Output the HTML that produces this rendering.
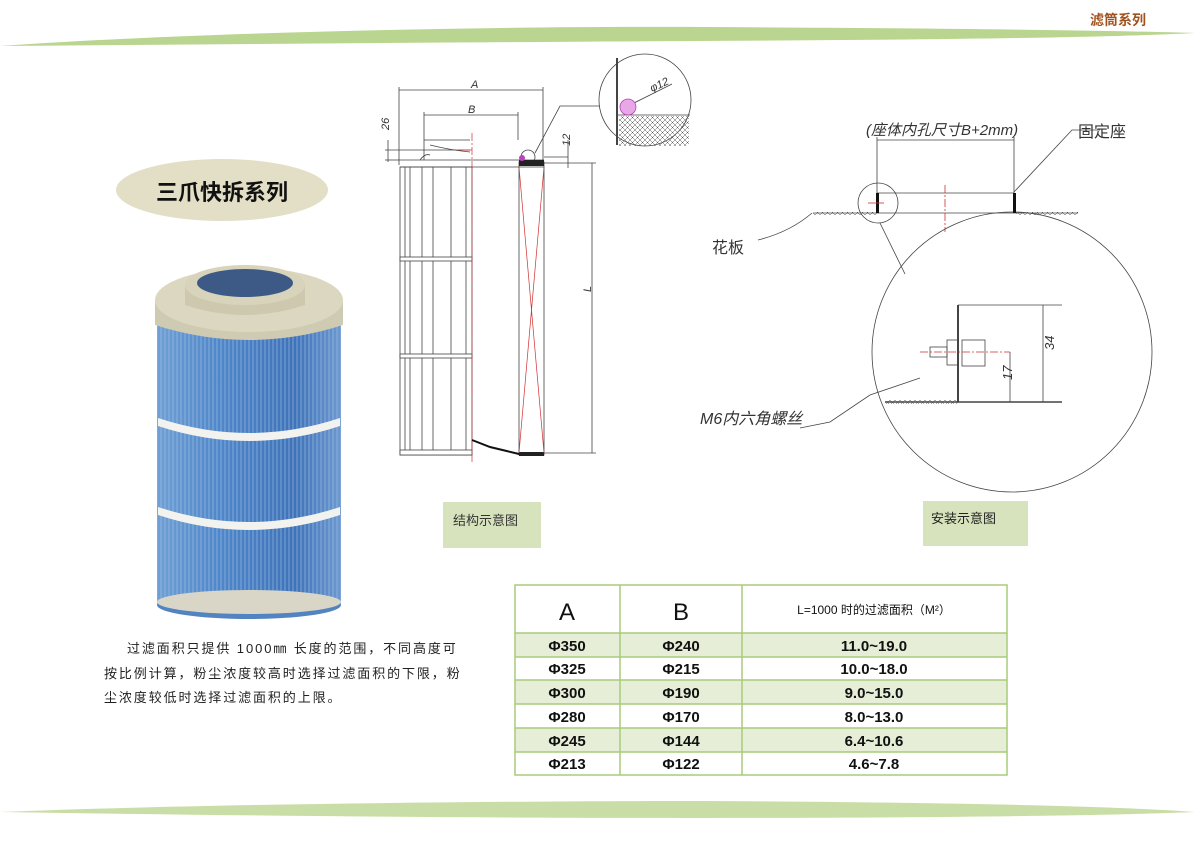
<!DOCTYPE html>
<html><head><meta charset="utf-8"><style>
html,body{margin:0;padding:0;background:#fff;}
svg{display:block;font-family:"Liberation Sans","Noto Sans CJK SC",sans-serif;}
</style></head><body>
<svg width="1199" height="847" viewBox="0 0 1199 847" xmlns="http://www.w3.org/2000/svg">
<defs>
<linearGradient id="blue" x1="0" x2="1" y1="0" y2="0">
<stop offset="0" stop-color="#6f9fd4"/><stop offset="0.35" stop-color="#4f86c8"/><stop offset="0.75" stop-color="#3f73b8"/><stop offset="1" stop-color="#6c98cf"/>
</linearGradient>
<pattern id="pleat" width="4" height="10" patternUnits="userSpaceOnUse"><rect width="4" height="10" fill="none"/><line x1="1" y1="0" x2="1" y2="10" stroke="#a9c6ea" stroke-width="0.8" opacity="0.7"/></pattern>
<pattern id="hatch" width="5" height="5" patternUnits="userSpaceOnUse"><path d="M0 0L5 5M5 0L0 5" stroke="#555" stroke-width="0.5"/></pattern>
</defs>
<!-- top swoosh -->
<path d="M0 46 C200 32 500 26 700 27 C900 28 1100 30 1195 33 C1100 38 900 40 700 41 C500 42 250 44 0 46Z" fill="#b9d58f"/>
<text x="1090" y="25" font-size="14" font-weight="bold" fill="#a0521e">滤筒系列</text>
<!-- bottom swoosh -->
<path d="M0 812 C200 804 500 801 700 801 C900 802 1100 805 1195 812 C1100 816 900 818 700 818 C500 818 250 816 0 812Z" fill="#c9dea6"/>

<!-- title oval -->
<ellipse cx="222" cy="190" rx="106" ry="31" fill="#e3dfc6"/>
<text x="222" y="200" font-size="22" font-weight="bold" text-anchor="middle" fill="#111">三爪快拆系列</text>

<!-- filter photo -->
<rect x="157" y="300" width="184" height="305" fill="url(#blue)"/>
<rect x="157" y="300" width="184" height="305" fill="url(#pleat)"/>
<ellipse cx="249" cy="605" rx="92" ry="14" fill="#5384c2"/>
<ellipse cx="249" cy="602" rx="92" ry="12" fill="#d9d6c8"/>
<path d="M158 418 Q249 448 340 418 L340 426 Q249 456 158 426Z" fill="#f2f2ef"/>
<path d="M158 507 Q249 537 340 507 L340 515 Q249 545 158 515Z" fill="#f2f2ef"/>
<path d="M155 300 L155 325 Q249 355 343 325 L343 300Z" fill="#cfcab2"/>
<ellipse cx="249" cy="300" rx="94" ry="32" fill="#dcd7c1"/>
<path d="M185 285 L185 305 Q245 325 305 305 L305 285Z" fill="#cdc8ae"/>
<ellipse cx="245" cy="285" rx="60" ry="20" fill="#d8d3bb"/>
<ellipse cx="245" cy="283" rx="48" ry="14" fill="#3d5a86"/>

<!-- paragraph -->
<g font-size="13" fill="#222" letter-spacing="1.9">
<text x="127" y="653">过滤面积只提供 1000㎜ 长度的范围，不同高度可</text>
<text x="104" y="678">按比例计算，粉尘浓度较高时选择过滤面积的下限，粉</text>
<text x="104" y="702">尘浓度较低时选择过滤面积的上限。</text>
</g>

<!-- left drawing -->
<g stroke="#444" stroke-width="0.8" fill="none">
<line x1="399" y1="90" x2="543" y2="90"/><line x1="399" y1="87" x2="399" y2="165"/><line x1="543" y1="87" x2="543" y2="160"/>
<line x1="424" y1="115" x2="518" y2="115"/><line x1="424" y1="112" x2="424" y2="140"/><line x1="518" y1="112" x2="518" y2="140"/>
<line x1="385" y1="150" x2="470" y2="150"/><line x1="385" y1="160" x2="400" y2="160"/>
<line x1="388" y1="140" x2="388" y2="162"/>
<rect x="400" y="167" width="72" height="288"/>
<line x1="405" y1="167" x2="405" y2="455"/><line x1="410" y1="167" x2="410" y2="455"/><line x1="422" y1="167" x2="422" y2="455"/><line x1="433" y1="167" x2="433" y2="455"/><line x1="451" y1="167" x2="451" y2="455"/><line x1="466" y1="167" x2="466" y2="455"/>
<rect x="400" y="257" width="72" height="4" fill="#fff"/><rect x="400" y="354" width="72" height="4" fill="#fff"/>
<rect x="400" y="450" width="72" height="5" fill="#fff"/>
<line x1="400" y1="160" x2="544" y2="160"/><line x1="400" y1="167" x2="544" y2="167"/>
<path d="M424 160 L424 140 L470 140"/><path d="M430 145 Q450 150 470 152"/><path d="M420 160 Q425 153 430 155"/>
<rect x="519" y="162" width="25" height="293"/>
<line x1="592" y1="163" x2="592" y2="453"/><line x1="544" y1="163" x2="596" y2="163"/><line x1="544" y1="453" x2="596" y2="453"/>
<line x1="544" y1="157" x2="568" y2="157"/><line x1="568" y1="140" x2="568" y2="168"/>
<circle cx="528" cy="157" r="7"/>
<path d="M535 153 L560 106 L600 106"/>
<circle cx="645" cy="100" r="46"/>
<line x1="617" y1="58" x2="617" y2="145" stroke-width="2"/>
<line x1="617" y1="115" x2="690" y2="115"/>
<line x1="630" y1="105" x2="672" y2="84"/>
</g>
<rect x="519" y="160" width="25" height="6" fill="#222"/><rect x="519" y="452" width="25" height="4" fill="#222"/>
<path d="M472 440 L490 447 L519 454" stroke="#111" stroke-width="2" fill="none"/>
<rect x="619" y="116" width="70" height="30" fill="url(#hatch)"/>
<circle cx="628" cy="107" r="8" fill="#e8a8e8" stroke="#b040b0" stroke-width="0.8"/>
<circle cx="522" cy="158" r="3" fill="#c040c0"/>
<g stroke="#d03030" stroke-width="0.7" fill="none">
<line x1="472" y1="133" x2="472" y2="462" stroke-dasharray="8 2 2 2"/>
<line x1="519" y1="167" x2="544" y2="453"/><line x1="544" y1="167" x2="519" y2="453"/>
<line x1="458" y1="150" x2="472" y2="150"/>
</g>
<g font-size="11" fill="#333" font-style="italic">
<text x="471" y="88">A</text><text x="468" y="113">B</text>
<text x="384" y="135" transform="rotate(-90 384 130)">26</text>
<text x="566" y="150" transform="rotate(-90 566 146)">12</text>
<text x="652" y="92" transform="rotate(-25 652 92)">φ12</text>
<text x="588" y="295" transform="rotate(-90 588 292)">L</text>
</g>
<rect x="443" y="502" width="98" height="46" fill="#d7e3bd"/>
<text x="453" y="525" font-size="13" fill="#333">结构示意图</text>
<rect x="923" y="501" width="105" height="45" fill="#d7e3bd"/>
<text x="931" y="523" font-size="13" fill="#222">安装示意图</text>

<!-- right drawing -->
<g stroke="#444" stroke-width="0.8" fill="none">
<line x1="877" y1="140" x2="1014" y2="140"/><line x1="877" y1="137" x2="877" y2="205"/><line x1="1014" y1="137" x2="1014" y2="193"/>
<line x1="813" y1="213" x2="877" y2="213"/><line x1="1014" y1="213" x2="1078" y2="213"/>
<line x1="877" y1="193" x2="1014" y2="193"/><line x1="877" y1="213" x2="1014" y2="213"/>
<circle cx="878" cy="203" r="20"/>
<path d="M1014 192 L1072 130 L1100 130"/>
<path d="M758 240 Q790 232 812 213"/>
<line x1="880" y1="223" x2="905" y2="274"/>
<circle cx="1012" cy="352" r="140"/>
<line x1="958" y1="305" x2="958" y2="402" stroke-width="2"/>
<line x1="885" y1="402" x2="1062" y2="402" stroke-width="1.5"/>
<line x1="958" y1="305" x2="1062" y2="305"/>
<line x1="1043" y1="305" x2="1043" y2="402"/><line x1="1010" y1="352" x2="1010" y2="402"/>
<rect x="962" y="340" width="23" height="26"/>
<rect x="947" y="340" width="11" height="25"/>
<rect x="930" y="347" width="17" height="10"/>
<path d="M920 378 L870 395 L830 422 L800 428"/>
</g>
<rect x="876" y="193" width="3" height="20" fill="#111"/><rect x="1013" y="193" width="3" height="20" fill="#111"/>
<rect x="813" y="212" width="64" height="3" fill="url(#hatch)"/><rect x="1016" y="212" width="62" height="3" fill="url(#hatch)"/>
<rect x="886" y="400" width="72" height="4" fill="url(#hatch)"/>
<g stroke="#d03030" stroke-width="0.8"><line x1="945" y1="185" x2="945" y2="232" stroke-dasharray="8 2 2 2"/><line x1="920" y1="352" x2="1010" y2="352" stroke-dasharray="8 2 2 2"/><line x1="868" y1="203" x2="884" y2="203"/></g>
<g font-size="16" fill="#333" font-style="italic">
<text x="866" y="135" font-size="15">(座体内孔尺寸B+2mm)</text>
<text x="1078" y="137" font-style="normal">固定座</text>
<text x="712" y="253" font-style="normal">花板</text>
<text x="700" y="424">M6内六角螺丝</text>
<text x="1054" y="350" transform="rotate(-90 1054 350)" font-size="13">34</text>
<text x="1006" y="386" transform="rotate(-90 1006 380)" font-size="13">17</text>
</g>

<!-- table -->
<g>
<rect x="515" y="585" width="492" height="190" fill="#fff"/>
<rect x="515" y="633" width="492" height="24" fill="#e6eed8"/>
<rect x="515" y="680" width="492" height="24" fill="#e6eed8"/>
<rect x="515" y="728" width="492" height="24" fill="#e6eed8"/>
<g stroke="#a8cc7a" stroke-width="1.5" fill="none">
<rect x="515" y="585" width="492" height="190"/>
<line x1="620" y1="585" x2="620" y2="775"/><line x1="742" y1="585" x2="742" y2="775"/>
<line x1="515" y1="633" x2="1007" y2="633"/><line x1="515" y1="657" x2="1007" y2="657"/><line x1="515" y1="680" x2="1007" y2="680"/><line x1="515" y1="704" x2="1007" y2="704"/><line x1="515" y1="728" x2="1007" y2="728"/><line x1="515" y1="752" x2="1007" y2="752"/>
</g>
<text x="567" y="620" font-size="24" text-anchor="middle" fill="#111">A</text>
<text x="681" y="620" font-size="24" text-anchor="middle" fill="#111">B</text>
<text x="874" y="614" font-size="12" text-anchor="middle" fill="#111">L=1000 时的过滤面积（M²）</text>
<g font-size="15" font-weight="bold" fill="#111" text-anchor="middle">
<text x="567" y="651">Φ350</text><text x="681" y="651">Φ240</text><text x="874" y="651">11.0~19.0</text>
<text x="567" y="674">Φ325</text><text x="681" y="674">Φ215</text><text x="874" y="674">10.0~18.0</text>
<text x="567" y="698">Φ300</text><text x="681" y="698">Φ190</text><text x="874" y="698">9.0~15.0</text>
<text x="567" y="722">Φ280</text><text x="681" y="722">Φ170</text><text x="874" y="722">8.0~13.0</text>
<text x="567" y="746">Φ245</text><text x="681" y="746">Φ144</text><text x="874" y="746">6.4~10.6</text>
<text x="567" y="769">Φ213</text><text x="681" y="769">Φ122</text><text x="874" y="769">4.6~7.8</text>
</g>
</g>
</svg>
</body></html>
